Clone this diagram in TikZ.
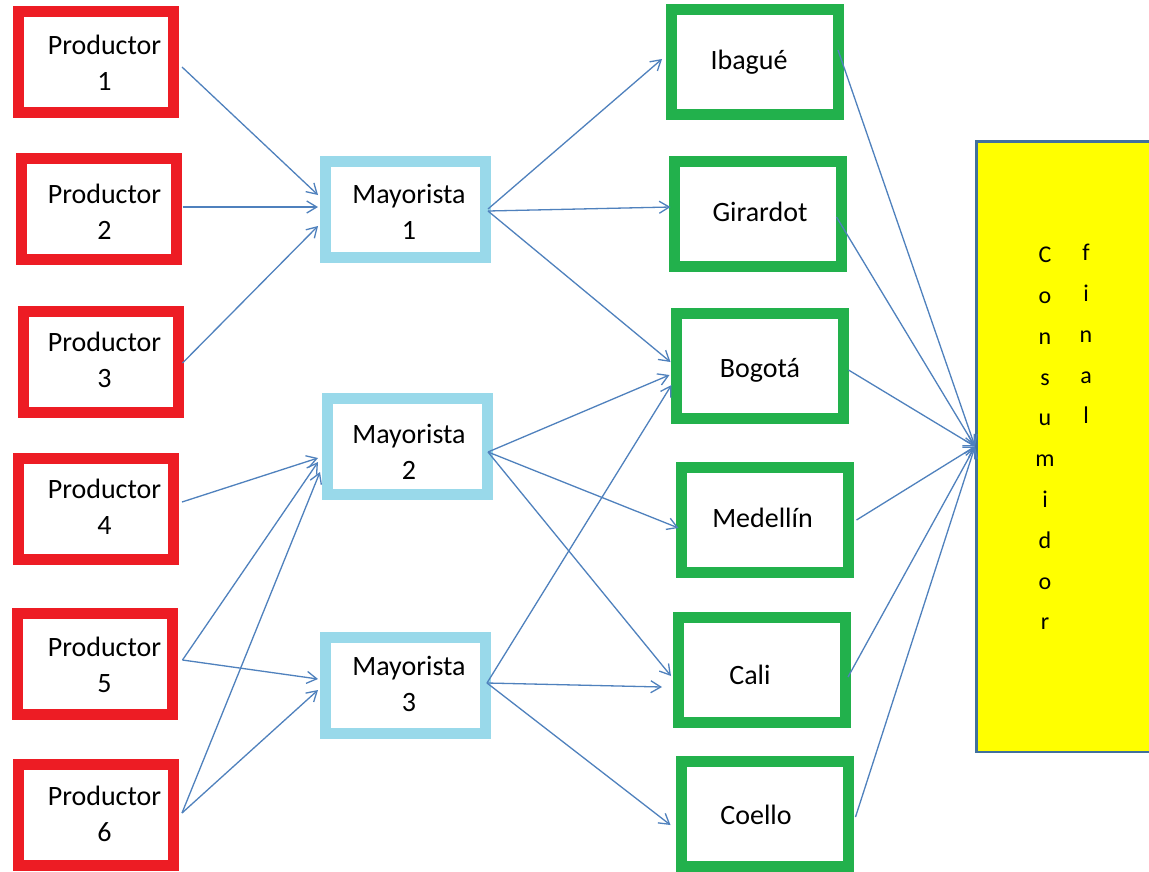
\documentclass[tikz,border=0pt]{standalone}
\usepackage{fontspec}
\setmainfont{Carlito}
\usetikzlibrary{arrows.meta,calc}
\definecolor{prodred}{HTML}{ED1C24}
\definecolor{mayblue}{HTML}{99D9EA}
\definecolor{citygreen}{HTML}{22B14C}
\definecolor{consyellow}{HTML}{FFFF00}
\definecolor{consedge}{HTML}{41719C}
\definecolor{flow}{HTML}{4F81BD}

\begin{document}
\begin{tikzpicture}[x=1pt,y=-1pt,
  box/.style={draw, rectangle, line width=11pt, fill=white, inner sep=0pt},
  prodbox/.style={box, draw=prodred, minimum width=155pt, minimum height=101pt},
  maybox/.style={box, draw=mayblue, minimum width=160pt, minimum height=96pt},
  citybox/.style={box, draw=citygreen, minimum width=167pt, minimum height=105pt},
  lbl/.style={font=\fontsize{28}{36}\selectfont, align=center, inner sep=0pt, text=black},
  letters/.style={font=\fontsize{24}{40.8}\selectfont, align=center, inner sep=0pt, text=black, anchor=north},
  flowline/.style={draw=flow, line width=1.3pt,
    -{Straight Barb[length=10pt,width=12pt,line width=1.3pt]}},
]
\useasboundingbox (0,0) rectangle (1149,871);
\clip (0,0) rectangle (1149,871);
\fill[white] (0,0) rectangle (1149,871);

% producers
\node[prodbox] (p1) at (96,62) {};
\node[prodbox] (p2) at (98.5,209) {};
\node[prodbox] (p3) at (100.5,362) {};
\node[prodbox] (p4) at (96,509) {};
\node[prodbox] (p5) at (94.5,663.5) {};
\node[prodbox] (p6) at (96,814.5) {};
\node[lbl] (p1t) at (104.5,62.5) {Productor\\1};
\node[lbl] (p2t) at (104.5,211.5) {Productor\\2};
\node[lbl] (p3t) at (104.5,359.5) {Productor\\3};
\node[lbl] (p4t) at (104.5,507) {Productor\\4};
\node[lbl] (p5t) at (104.5,665) {Productor\\5};
\node[lbl] (p6t) at (104.5,813.5) {Productor\\6};

% wholesalers
\node[maybox] (m1) at (405.5,209) {};
\node[maybox] (m2) at (407.5,446) {};
\node[maybox] (m3) at (405.5,685.5) {};
\node[lbl] (m1t) at (409,212) {Mayorista\\1};
\node[lbl] (m2t) at (409,452) {Mayorista\\2};
\node[lbl] (m3t) at (409,684) {Mayorista\\3};

% cities
\node[citybox] (ib) at (755,62) {};
\node[citybox] (gi) at (757.5,213.5) {};
\node[citybox] (bo) at (759.5,366) {};
\node[citybox] (me) at (764.5,519.5) {};
\node[citybox] (ca) at (762,670) {};
\node[citybox] (co) at (764.5,813.5) {};
\node[lbl] (ibt) at (749,62) {Ibagué};
\node[lbl] (git) at (760,212) {Girardot};
\node[lbl] (bot) at (760,370) {Bogotá};
\node[lbl] (met) at (762.5,518) {Medellín};
\node[lbl] (cat) at (750,675) {Cali};
\node[lbl] (cot) at (756,815) {Coello};

% final consumer
\node[draw=consedge, line width=2.5pt, fill=consyellow, rectangle, inner sep=0pt,
      minimum width=200pt, minimum height=610.5pt, anchor=north west] (cons) at (975,140) {};
\node[letters] (consa) at (1045,247) {C\\o\\n\\s\\u\\m\\i\\d\\o\\r};
\node[letters] (consb) at (1086,244) {f\\i\\n\\a\\l};

% producers to wholesalers
\draw[flowline] ($(p1.east)+(3,5)$) -- ($(m1.west)+(-2,-14)$);
\draw[flowline] ($(p2.east)+(1,-2)$) -- ($(m1.west)+(-2,-2)$);
\draw[flowline] ($(p3.east)+(-1,1)$) -- ($(m1.west)+(-2,17)$);
\draw[flowline] ($(p4.east)+(3,-7)$) -- ($(m2.west)+(-4,12)$);
\draw[flowline] ($(p5.east)+(5,-3.5)$) -- ($(m2.west)+(-4,16)$);
\draw[flowline] ($(p5.east)+(5,-3.5)$) -- ($(m3.west)+(-2,-6.5)$);
\draw[flowline] ($(p6.east)+(3,-1.5)$) -- ($(m2.west)+(-2,26)$);
\draw[flowline] ($(p6.east)+(3,-1.5)$) -- ($(m3.west)+(-2,4.5)$);

% wholesalers to cities
\draw[flowline] ($(m1.east)+(-3,0)$) -- ($(ib.west)+(-4,-3)$);
\draw[flowline] ($(m1.east)+(-3,2)$) -- ($(gi.west)+(2,-6.5)$);
\draw[flowline] ($(m1.east)+(-3,2)$) -- ($(bo.west)+(0,-4)$);
\draw[flowline] ($(m2.east)+(-5,6)$) -- ($(bo.west)+(-1,9)$);
\draw[flowline] ($(m2.east)+(-5,6)$) -- ($(me.west)+(3,8.5)$);
\draw[flowline] ($(m2.east)+(-5,6)$) -- ($(ca.west)+(-2,6)$);
\draw[flowline] ($(m3.east)+(-4,-2.5)$) -- ($(bo.west)+(1,19)$);
\draw[flowline] ($(m3.east)+(-4,-2.5)$) -- ($(ca.west)+(-11,17)$);
\draw[flowline] ($(m3.east)+(-4,-2.5)$) -- ($(co.west)+(-5,11.5)$);

% cities to final consumer
\draw[flowline] ($(ib.east)+(-6,-12)$) -- (cons.west);
\draw[flowline] ($(gi.east)+(-10,3.5)$) -- (cons.west);
\draw[flowline] ($(bo.east)+(0,4)$) -- (cons.west);
\draw[flowline] ($(me.east)+(3,0.5)$) -- (cons.west);
\draw[flowline] ($(ca.east)+(-3,7)$) -- (cons.west);
\draw[flowline] ($(co.east)+(2,3.5)$) -- (cons.west);
\end{tikzpicture}
\end{document}
